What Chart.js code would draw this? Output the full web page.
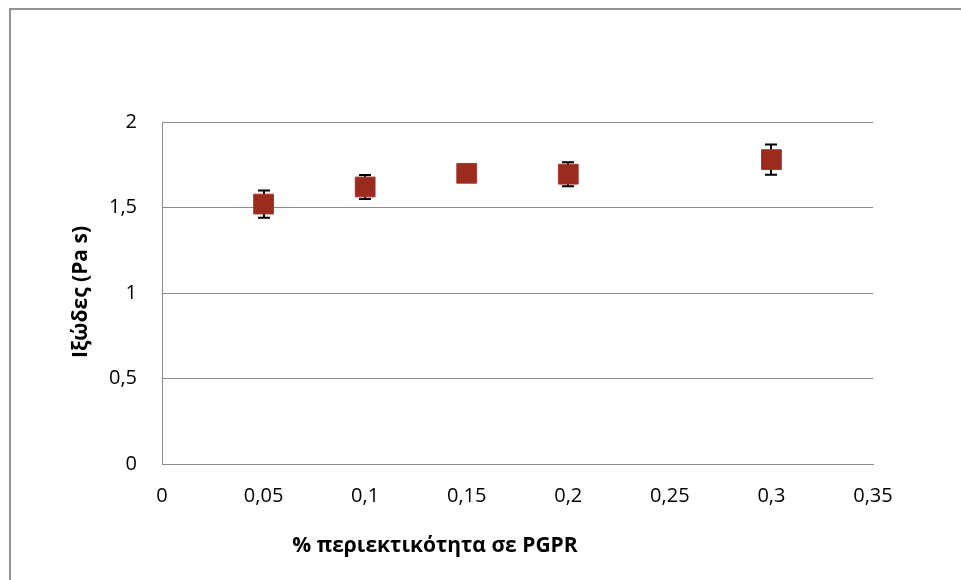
<!DOCTYPE html>
<html>
<head>
<meta charset="utf-8">
<script src="https://cdn.jsdelivr.net/npm/chart.js@4"></script>
<style>
  html, body { margin: 0; padding: 0; background: #fff; }
  #wrap { width: 961px; height: 580px; position: relative; }
</style>
</head>
<body>
<div id="wrap"><canvas id="chart" width="961" height="580"></canvas></div>
<script>
// data
const pgpr = [0.05, 0.1, 0.15, 0.2, 0.3];
const viscosity = [1.52, 1.62, 1.70, 1.695, 1.78];
const errors = [0.08, 0.07, 0.0, 0.07, 0.088];
const xTitle = '% περιεκτικότητα σε PGPR';
const yTitle = 'Ιξώδες (Pa s)';

const fontFamily = '"Open Sans", "Noto Sans", sans-serif';
const fmtComma = v => String(+Number(v).toFixed(2)).replace('.', ',');

// error bars behind the squares
const errorBars = {
  id: 'errorBars',
  beforeDatasetsDraw(chart) {
    const { ctx, scales: { x, y } } = chart;
    ctx.save();
    ctx.strokeStyle = '#000';
    ctx.lineWidth = 2;
    pgpr.forEach((v, i) => {
      if (!errors[i]) return;
      const px = Math.round(x.getPixelForValue(v));
      const top = y.getPixelForValue(viscosity[i] + errors[i]);
      const bot = y.getPixelForValue(viscosity[i] - errors[i]);
      ctx.beginPath();
      ctx.moveTo(px, top); ctx.lineTo(px, bot);
      ctx.moveTo(px - 6, top); ctx.lineTo(px + 6, top);
      ctx.moveTo(px - 6, bot); ctx.lineTo(px + 6, bot);
      ctx.stroke();
    });
    ctx.restore();
  }
};

// frame (only top/left edges are inside the picture) + axis titles
const decor = {
  id: 'decor',
  afterDraw(chart) {
    const ctx = chart.ctx;
    ctx.save();
    ctx.strokeStyle = '#929292';
    ctx.lineWidth = 2;
    ctx.beginPath();
    ctx.moveTo(10, 580); ctx.lineTo(10, 9); ctx.lineTo(961, 9);
    ctx.stroke();
    ctx.fillStyle = '#000';
    ctx.font = 'bold 21px ' + fontFamily;
    ctx.textAlign = 'center';
    ctx.textBaseline = 'middle';
    ctx.fillText(xTitle, 435, 546);
    ctx.translate(81, 292);
    ctx.rotate(-Math.PI / 2);
    ctx.fillText(yTitle, 0, 0);
    ctx.restore();
  }
};

new Chart(document.getElementById('chart'), {
  type: 'scatter',
  data: {
    datasets: [{
      data: pgpr.map((x, i) => ({ x, y: viscosity[i] })),
      pointStyle: 'rect',
      pointRadius: 14,
      pointHoverRadius: 14,
      backgroundColor: '#9b2b1f',
      borderColor: '#a8382b',
      borderWidth: 1
    }]
  },
  options: {
    responsive: false,
    animation: false,
    layout: { padding: { top: 122, right: 88, left: 0, bottom: 0 } },
    plugins: { legend: { display: false }, tooltip: { enabled: false } },
    scales: {
      x: {
        type: 'linear', min: 0, max: 0.35,
        afterFit: s => { s.height = 116; },
        ticks: { stepSize: 0.05, padding: 20, color: '#000', font: { family: fontFamily, size: 20 }, callback: fmtComma },
        grid: { display: false, drawTicks: false },
        border: { display: true, color: '#8a8a8a', width: 1 }
      },
      y: {
        min: 0, max: 2,
        afterFit: s => { s.width = 162; },
        ticks: { stepSize: 0.5, padding: 25, color: '#000', font: { family: fontFamily, size: 20 }, callback: fmtComma },
        grid: { color: '#8a8a8a', lineWidth: 1, drawTicks: false },
        border: { display: true, color: '#8a8a8a', width: 1 }
      }
    }
  },
  plugins: [errorBars, decor]
});
</script>
</body>
</html>
